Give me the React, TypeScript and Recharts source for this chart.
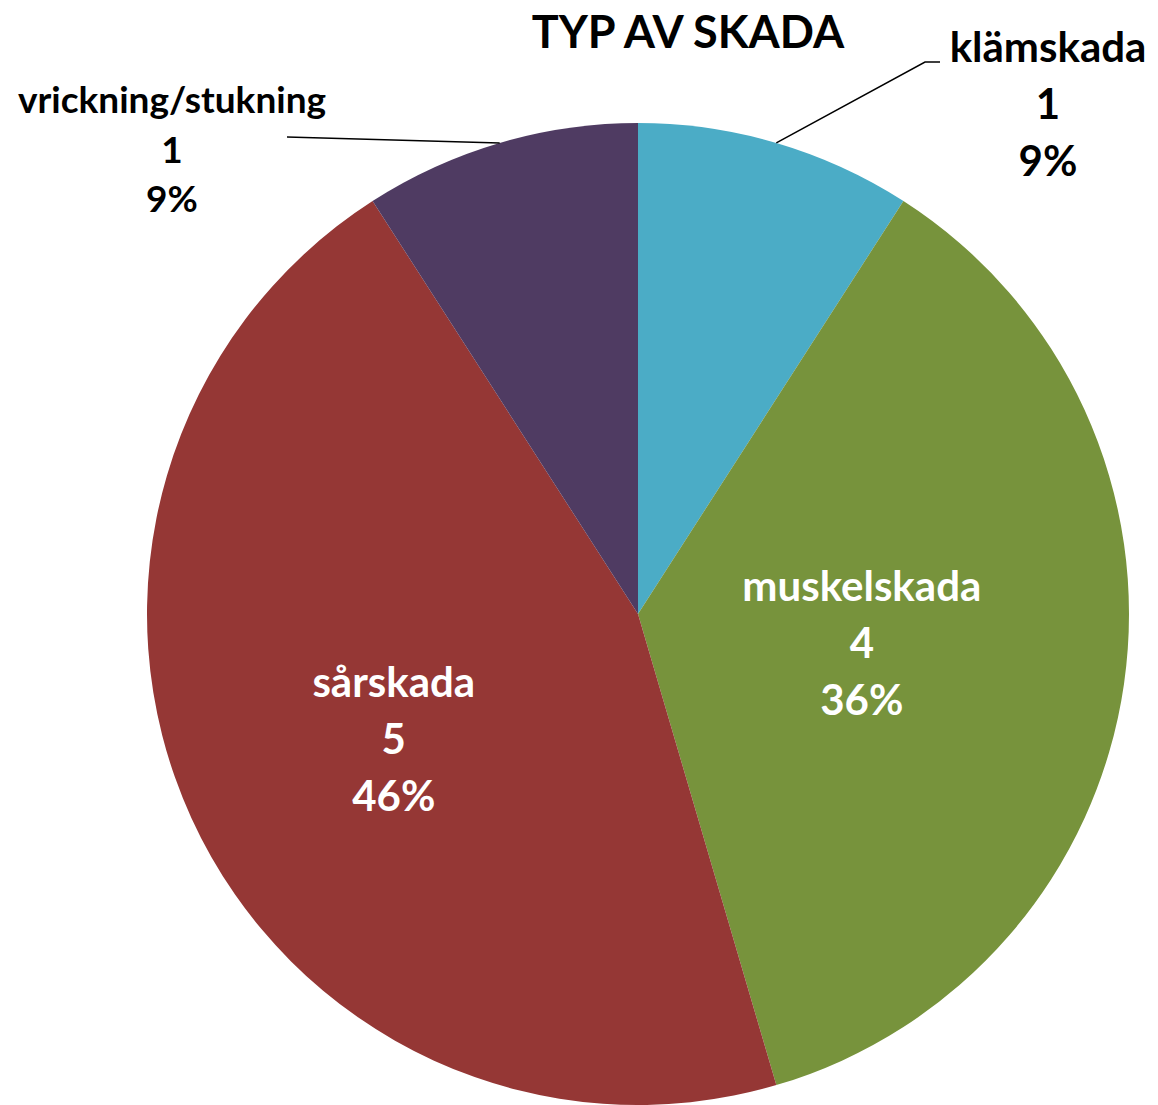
import React from "react";
import { PieChart, Pie, Cell } from "recharts";

const categories = ["klämskada", "muskelskada", "sårskada", "vrickning/stukning"];
const counts = [1, 4, 5, 1];
const percentLabels = ["9%", "36%", "46%", "9%"];
const colors = ["#4BACC6", "#77933C", "#953735", "#4F3B62"];
const title = "TYP AV SKADA";

const data = categories.map((name, i) => ({ name, value: counts[i], pct: percentLabels[i] }));

const FONT = "Lato, 'Open Sans', sans-serif";

// label layout per slice (layout, not data)
const labelLayout = [
  { outside: true, tx: 1048, ty: 62, fs: 42, lh: 57, elbow: [925, 62], end: [940, 62], color: "#000" },
  { outside: false, rf: 0.46, da: 0.5, fs: 42, lh: 57, color: "#fff" },
  { outside: false, rf: 0.56, da: 2.8, fs: 42, lh: 57, color: "#fff" },
  { outside: true, tx: 172, ty: 113, fs: 37, lh: 49.5, elbow: [287, 137], end: [287, 137], color: "#000" },
];

const RAD = Math.PI / 180;

function Lines({ x, y, lh, fs, color, lines }: any) {
  return (
    <>
      {lines.map((t: any, k: number) => (
        <text key={k} x={x} y={y + k * lh} textAnchor="middle" fill={color} fontFamily={FONT} fontWeight={700} fontSize={fs}>
          {t}
        </text>
      ))}
    </>
  );
}

function renderLabel(props: any) {
  const { cx, cy, midAngle, outerRadius, index, name, value, payload } = props;
  const lay = labelLayout[index];
  const pct = (payload && payload.pct) || percentLabels[index];
  const lines = [name, value, pct];
  if (lay.outside) {
    const sx = cx + outerRadius * Math.cos(-midAngle * RAD);
    const sy = cy + outerRadius * Math.sin(-midAngle * RAD);
    const pts = `${sx},${sy} ${lay.elbow[0]},${lay.elbow[1]} ${lay.end[0]},${lay.end[1]}`;
    return (
      <g key={`l-${index}`}>
        <polyline points={pts} fill="none" stroke="#000" strokeWidth={1.5} />
        <Lines x={lay.tx} y={lay.ty} lh={lay.lh} fs={lay.fs} color={lay.color} lines={lines} />
      </g>
    );
  }
  const r = outerRadius * lay.rf;
  const a = midAngle + lay.da;
  const x = cx + r * Math.cos(-a * RAD);
  const y = cy + r * Math.sin(-a * RAD);
  return (
    <g key={`l-${index}`}>
      <Lines x={x} y={y - lay.lh + 14} lh={lay.lh} fs={lay.fs} color={lay.color} lines={lines} />
    </g>
  );
}

export default function App() {
  return (
    <div style={{ position: "absolute", left: 0, top: 0, width: 1158, height: 1105, background: "#fff" }}>
      <PieChart width={1158} height={1105} margin={{ top: 0, right: 0, bottom: 0, left: 0 }}>
        <text x={688} y={48} textAnchor="middle" fontFamily={FONT} fontWeight={700} fontSize={45} fill="#000">
          {title}
        </text>
        <Pie
          data={data}
          dataKey="value"
          nameKey="name"
          cx={638}
          cy={614}
          outerRadius={491}
          startAngle={90}
          endAngle={-270}
          stroke="none"
          labelLine={false}
          label={renderLabel}
          isAnimationActive={false}
        >
          {data.map((d, i) => (
            <Cell key={d.name} fill={colors[i]} />
          ))}
        </Pie>
      </PieChart>
    </div>
  );
}
